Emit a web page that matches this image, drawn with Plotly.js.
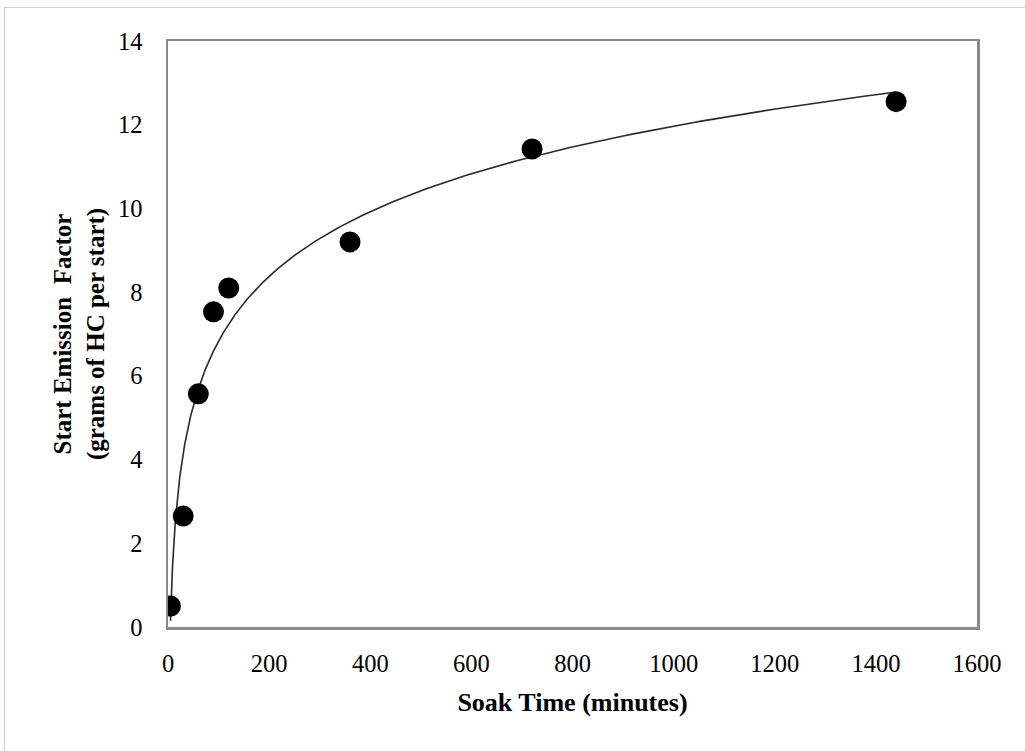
<!DOCTYPE html>
<html>
<head>
<meta charset="utf-8">
<script src="https://cdn.plot.ly/plotly-3.0.1.min.js"></script>
<style>
  html, body { margin: 0; padding: 0; background: #fff; }
  #frame { position: absolute; left: 4px; top: 7px; width: 1021px; height: 744px;
           border-top: 1px solid #cfcfcf; border-left: 1px solid #cfcfcf; box-sizing: border-box; }
  #chart { position: absolute; left: 0; top: 0; width: 1025px; height: 751px; }
</style>
</head>
<body>
<div id="frame"></div>
<div id="chart"></div>
<script>
// Data
const soakTime = [5, 30, 60, 90, 120, 360, 720, 1440];           // minutes
const emission = [0.50, 2.65, 5.57, 7.53, 8.10, 9.20, 11.42, 12.55]; // g HC per start
const xTicks = [0, 200, 400, 600, 800, 1000, 1200, 1400, 1600];
const yTicks = [0, 2, 4, 6, 8, 10, 12, 14];

// Logarithmic trendline (least squares on ln x), as the spreadsheet did
function logFit(xs, ys) {
  const lx = xs.map(Math.log);
  const n = xs.length;
  const mx = lx.reduce((a, b) => a + b, 0) / n;
  const my = ys.reduce((a, b) => a + b, 0) / n;
  let sxy = 0, sxx = 0;
  for (let i = 0; i < n; i++) { sxy += (lx[i] - mx) * (ys[i] - my); sxx += (lx[i] - mx) ** 2; }
  const a = sxy / sxx;
  return { a: a, b: my - a * mx };
}
const fit = logFit(soakTime, emission);
const xMin = Math.min(...soakTime), xMax = Math.max(...soakTime);
const trendX = [], trendY = [];
for (let i = 0; i <= 400; i++) {
  const x = xMin * Math.pow(xMax / xMin, i / 400);
  const y = fit.a * Math.log(x) + fit.b;
  if (y >= 0) { trendX.push(x); trendY.push(y); }
}

const serif = '"Liberation Serif", "Times New Roman", serif';

const traces = [
  { x: trendX, y: trendY, type: 'scatter', mode: 'lines',
    line: { color: '#2a2a2a', width: 1.6 }, hoverinfo: 'skip', showlegend: false },
  { x: soakTime, y: emission, type: 'scatter', mode: 'markers',
    marker: { color: '#000', size: 21 }, showlegend: false }
];

const layout = {
  width: 1025, height: 751,
  paper_bgcolor: 'rgba(0,0,0,0)', plot_bgcolor: '#fff',
  margin: { l: 168, r: 48, t: 41, b: 124 },
  font: { family: serif, color: '#000', size: 24 },
  showlegend: false,
  xaxis: {
    range: [0, 1600], tickvals: xTicks, ticktext: xTicks.map(String),
    showgrid: false, zeroline: false, ticks: '',
    showline: true, mirror: true, linecolor: '#8a8a8a', linewidth: 2.5,
    ticklabelstandoff: 13,
    tickfont: { family: serif, size: 24.5, color: '#000' },
    title: { text: '<b>Soak Time (minutes)</b>', font: { family: serif, size: 26, color: '#000' }, standoff: 17 },
    automargin: false
  },
  yaxis: {
    range: [0, 14], tickvals: yTicks, ticktext: yTicks.map(String),
    showgrid: false, zeroline: false, ticks: '',
    showline: true, mirror: true, linecolor: '#8a8a8a', linewidth: 2.5,
    ticklabelstandoff: 18,
    tickfont: { family: serif, size: 24.5, color: '#000' },
    title: { text: '<b>Start Emission  Factor<br>(grams of HC per start)</b>', font: { family: serif, size: 25, color: '#000' }, standoff: 7 },
    automargin: false
  }
};

Plotly.newPlot('chart', traces, layout, { displayModeBar: false, staticPlot: true });
</script>
</body>
</html>
